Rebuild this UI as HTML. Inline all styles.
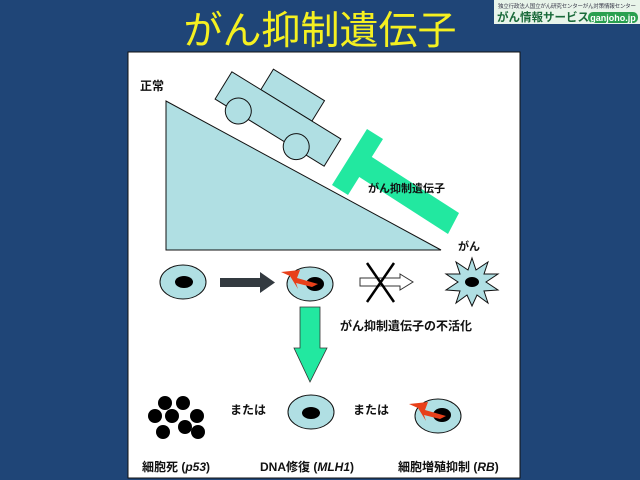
<!DOCTYPE html>
<html><head><meta charset="utf-8"><style>
body{margin:0;width:640px;height:480px;background:#1f4577;overflow:hidden;font-family:"Liberation Sans","Noto Sans CJK JP",sans-serif}
</style></head><body>
<svg width="640" height="480" xmlns="http://www.w3.org/2000/svg" style="position:absolute;left:0;top:0">
<text x="320" y="44" text-anchor="middle" font-size="39" fill="#f5f020" font-family="Liberation Sans,Noto Sans CJK JP,sans-serif">がん抑制遺伝子</text>
<rect x="494" y="0" width="146" height="24" fill="#e8f4ea"/>
<text x="498" y="8" font-size="5.5" fill="#334" textLength="138">独立行政法人国立がん研究センターがん対策情報センター</text>
<text x="497" y="21" font-size="11.5" font-weight="bold" fill="#1a6a3a">がん情報サービス</text>
<rect x="588" y="12" width="50" height="11" rx="5" fill="#2aa050"/>
<text x="613" y="21" font-size="9" font-weight="bold" fill="#fff" text-anchor="middle">ganjoho.jp</text>
<rect x="128" y="52" width="392" height="426" fill="#fff" stroke="#111" stroke-width="1"/>
<g font-family="Liberation Sans,Noto Sans CJK JP,sans-serif" font-weight="bold" fill="#111">
<text x="140" y="90" font-size="12">正常</text>
<polygon points="166,101 166,250 441,250" fill="#b0dfe3" stroke="#111"/>
<g transform="translate(278,119) rotate(31.6)" fill="#b0dfe3" stroke="#111">
<rect x="-30" y="-40" width="60" height="24"/>
<rect x="-64" y="-16" width="128" height="32"/>
<circle cx="-38" cy="14" r="13"/><circle cx="30" cy="14" r="13"/>
</g>
<polygon points="332,185 367,129 383,139 348,195" fill="#22e8a0"/>
<polygon points="361,150 459,213 448,234 350,171" fill="#22e8a0"/>
<text x="368" y="192" font-size="11">がん抑制遺伝子</text>
<text x="458" y="250" font-size="11">がん</text>
<ellipse cx="183" cy="282" rx="23" ry="17" fill="#b0dfe3" stroke="#111"/>
<ellipse cx="184" cy="282" rx="9" ry="6" fill="#000"/>
<rect x="220" y="278" width="42" height="9" fill="#333a40"/>
<polygon points="260,272 275,282.5 260,293" fill="#333a40"/>
<ellipse cx="310" cy="284" rx="23" ry="17" fill="#b0dfe3" stroke="#111"/>
<ellipse cx="315" cy="284" rx="9" ry="7" fill="#000"/>
<polygon points="281,272 300,270 297,278 318,284 312,287 296,283 298,289 290,276" fill="#e8401a"/>
<polygon points="360,278 400,278 400,274 413,282 400,290 400,286 360,286" fill="#fff" stroke="#333"/>
<line x1="367" y1="263" x2="394" y2="302" stroke="#000" stroke-width="2.5"/>
<line x1="394" y1="263" x2="367" y2="302" stroke="#000" stroke-width="2.5"/>
<polygon points="472,258 476,270 488,262 484,274 498,274 486,282 498,290 484,291 488,303 477,295 472,306 467,295 456,303 460,291 446,290 458,282 446,274 460,274 456,262 468,270" fill="#b0dfe3" stroke="#111"/>
<ellipse cx="472" cy="282" rx="7" ry="5" fill="#000"/>
<text x="340" y="330" font-size="12">がん抑制遺伝子の不活化</text>
<polygon points="300,307 320,307 320,348 327,348 310,382 294,348 300,348" fill="#22e8a0" stroke="#333" stroke-width="0.8"/>
<g fill="#000"><circle cx="165" cy="403" r="7"/><circle cx="183" cy="403" r="7"/><circle cx="155" cy="416" r="7"/><circle cx="172" cy="416" r="7"/><circle cx="197" cy="416" r="7"/><circle cx="185" cy="427" r="7"/><circle cx="163" cy="432" r="7"/><circle cx="198" cy="432" r="7"/></g>
<text x="230" y="414" font-size="12">または</text>
<ellipse cx="311" cy="412" rx="23" ry="17" fill="#b0dfe3" stroke="#111"/>
<ellipse cx="311" cy="413" rx="9" ry="6" fill="#000"/>
<text x="353" y="414" font-size="12">または</text>
<ellipse cx="438" cy="416" rx="23" ry="17" fill="#b0dfe3" stroke="#111"/>
<ellipse cx="442" cy="415" rx="9" ry="7" fill="#000"/>
<polygon points="409,404 428,402 425,410 446,416 440,419 424,415 426,421 418,408" fill="#e8401a"/>
<text x="142" y="471" font-size="12">細胞死 (<tspan font-style="italic">p53</tspan>)</text>
<text x="260" y="471" font-size="12">DNA修復 (<tspan font-style="italic">MLH1</tspan>)</text>
<text x="398" y="471" font-size="12">細胞増殖抑制 (<tspan font-style="italic">RB</tspan>)</text>
</g>
</svg>
</body></html>
